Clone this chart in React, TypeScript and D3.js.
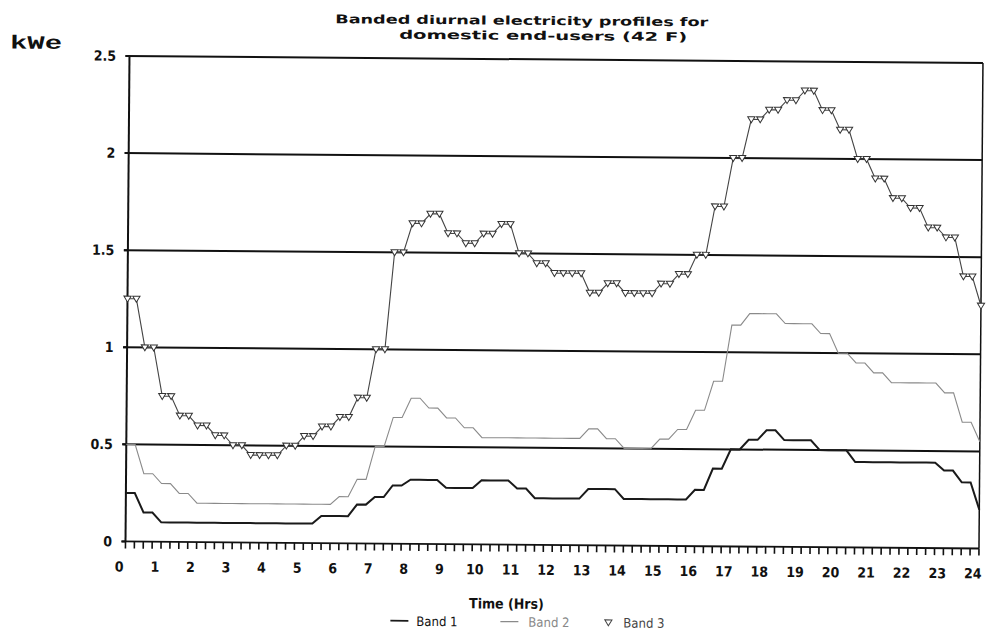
import React from "react";
import * as d3 from "d3";

// Quarter-hour samples, t = 0, 0.25, ... 24 (97 points each)
const BAND1 = [
  0.25, 0.25, 0.15, 0.15,
  0.1, 0.1, 0.1, 0.1, 0.1, 0.1, 0.1, 0.1, 0.1, 0.1, 0.1, 0.1, 0.1, 0.1, 0.1, 0.1, 0.1, 0.1,
  0.14, 0.14, 0.14, 0.14,
  0.2, 0.2, 0.24, 0.24, 0.3, 0.3,
  0.33, 0.33, 0.33, 0.33,
  0.29, 0.29, 0.29, 0.29,
  0.33, 0.33, 0.33, 0.33,
  0.29, 0.29,
  0.24, 0.24, 0.24, 0.24, 0.24, 0.24,
  0.29, 0.29, 0.29, 0.29,
  0.24, 0.24, 0.24, 0.24, 0.24, 0.24, 0.24, 0.24,
  0.29, 0.29, 0.4, 0.4, 0.5, 0.5, 0.55, 0.55, 0.6, 0.6,
  0.55, 0.55, 0.55, 0.55,
  0.5, 0.5, 0.5, 0.5,
  0.44, 0.44, 0.44, 0.44, 0.44, 0.44, 0.44, 0.44, 0.44, 0.44,
  0.4, 0.4, 0.34, 0.34,
  0.2,
];

const BAND2 = [
  0.5, 0.5, 0.35, 0.35, 0.3, 0.3, 0.25, 0.25,
  0.2, 0.2, 0.2, 0.2, 0.2, 0.2, 0.2, 0.2, 0.2, 0.2, 0.2, 0.2, 0.2, 0.2, 0.2, 0.2,
  0.24, 0.24, 0.33, 0.33, 0.5, 0.5, 0.65, 0.65, 0.75, 0.75, 0.7, 0.7, 0.65, 0.65, 0.6, 0.6,
  0.55, 0.55, 0.55, 0.55, 0.55, 0.55, 0.55, 0.55, 0.55, 0.55, 0.55, 0.55,
  0.6, 0.6, 0.55, 0.55,
  0.5, 0.5, 0.5, 0.5,
  0.55, 0.55, 0.6, 0.6, 0.7, 0.7, 0.85, 0.85, 1.14, 1.14,
  1.2, 1.2, 1.2, 1.2,
  1.15, 1.15, 1.15, 1.15,
  1.1, 1.1, 1.0, 1.0, 0.95, 0.95, 0.9, 0.9,
  0.85, 0.85, 0.85, 0.85, 0.85, 0.85,
  0.8, 0.8, 0.65, 0.65,
  0.55,
];

const BAND3 = [
  1.25, 1.25, 1.0, 1.0, 0.75, 0.75, 0.65, 0.65, 0.6, 0.6, 0.55, 0.55, 0.5, 0.5,
  0.45, 0.45, 0.45, 0.45,
  0.5, 0.5, 0.55, 0.55, 0.6, 0.6, 0.65, 0.65, 0.75, 0.75, 1.0, 1.0,
  1.5, 1.5, 1.65, 1.65, 1.7, 1.7, 1.6, 1.6, 1.55, 1.55, 1.6, 1.6, 1.65, 1.65,
  1.5, 1.5, 1.45, 1.45,
  1.4, 1.4, 1.4, 1.4,
  1.3, 1.3, 1.35, 1.35,
  1.3, 1.3, 1.3, 1.3,
  1.35, 1.35, 1.4, 1.4, 1.5, 1.5, 1.75, 1.75, 2.0, 2.0,
  2.2, 2.2, 2.25, 2.25, 2.3, 2.3, 2.35, 2.35, 2.25, 2.25, 2.15, 2.15,
  2.0, 2.0, 1.9, 1.9, 1.8, 1.8, 1.75, 1.75, 1.65, 1.65, 1.6, 1.6, 1.4, 1.4,
  1.25,
];

const HOUR_LABELS = [
  "0", "1", "2", "3", "4", "5", "6", "7", "8", "9", "10", "11", "12",
  "13", "14", "15", "16", "17", "18", "19", "20", "21", "22", "23", "24",
];
const Y_TICKS = [0, 0.5, 1, 1.5, 2, 2.5];
const Y_TICK_LABELS = ["0", "0.5", "1", "1.5", "2", "2.5"];
const SERIES_NAMES = ["Band 1", "Band 2", "Band 3"];

const TITLE_LINES = ["Banded diurnal electricity profiles for", "domestic end-users (42 F)"];

const W = 986;
const H = 633;
const FONT = "'DejaVu Sans Condensed', 'Liberation Sans Narrow', 'DejaVu Sans', sans-serif";

export default function App() {
  const x = d3.scaleLinear().domain([0, 24]).range([127.5, 981]);
  const y = d3.scaleLinear().domain([0, 2.5]).range([545, 59.5]);
  const times = BAND1.map((_, i) => i * 0.25);
  const line = d3
    .line<number>()
    .x((_, i) => x(times[i]))
    .y((d) => y(d));
  const minorTicks = d3.range(0, 24.001, 0.25);
  const tri = (cx: number, cy: number) =>
    `M${cx - 3.6},${cy - 2.6}L${cx + 3.6},${cy - 2.6}L${cx},${cy + 3.4}Z`;

  return (
    <div style={{ position: "absolute", left: 0, top: 0 }}>
      <svg width={W} height={H} viewBox={`0 0 ${W} ${H}`} style={{ display: "block", background: "#fff" }}>
        <rect x={0} y={0} width={W} height={H} fill="#fff" />
        <g transform="rotate(0.47, 554, 300)">
          {/* Title */}
          <text x={333} y={25} fontFamily={FONT} fontWeight="bold" fontSize={12} textLength={373} lengthAdjust="spacingAndGlyphs" fill="#111">
            {TITLE_LINES[0]}
          </text>
          <text x={397} y={40} fontFamily={FONT} fontWeight="bold" fontSize={12} textLength={288} lengthAdjust="spacingAndGlyphs" fill="#111">
            {TITLE_LINES[1]}
          </text>
          {/* y unit */}
          <text x={8} y={53} fontFamily="'Liberation Mono', 'DejaVu Sans Mono', monospace" fontWeight="bold" fontSize={19} textLength={52} lengthAdjust="spacingAndGlyphs" fill="#111">
            kWe
          </text>

          {/* gridlines */}
          {Y_TICKS.map((v, i) => (
            <g key={"g" + i}>
              {v > 0 && (
                <line x1={x(0) - 4} x2={x(24)} y1={y(v)} y2={y(v)} stroke="#111" strokeWidth={2} />
              )}
              <line x1={x(0) - 4} x2={x(0)} y1={y(v)} y2={y(v)} stroke="#111" strokeWidth={2} />
              <text x={114} y={y(v)} dy="0.35em" textAnchor="end" fontFamily={FONT} fontWeight="bold" fontSize={14} fill="#111">
                {Y_TICK_LABELS[i]}
              </text>
            </g>
          ))}
          {/* axes frame */}
          <line x1={x(0)} x2={x(0)} y1={y(0)} y2={y(2.5)} stroke="#111" strokeWidth={2} />
          <line x1={x(24)} x2={x(24)} y1={y(0)} y2={y(2.5)} stroke="#111" strokeWidth={1.5} />
          <line x1={x(0) - 4} x2={x(24)} y1={y(0)} y2={y(0)} stroke="#111" strokeWidth={1.8} />
          {minorTicks.map((t, i) => (
            <line key={"t" + i} x1={x(t)} x2={x(t)} y1={y(0)} y2={y(0) + 7} stroke="#111" strokeWidth={1.6} />
          ))}
          {HOUR_LABELS.map((lab, i) => (
            <text key={"h" + i} x={x(i) - 6} y={575} textAnchor="middle" fontFamily={FONT} fontWeight="bold" fontSize={14} fill="#111">
              {lab}
            </text>
          ))}
          <text x={509} y={609} textAnchor="middle" fontFamily={FONT} fontWeight="bold" fontSize={14} fill="#111">
            Time (Hrs)
          </text>

          {/* series */}
          <path d={line(BAND2) || ""} fill="none" stroke="#8a8a8a" strokeWidth={1.1} />
          <path d={line(BAND1) || ""} fill="none" stroke="#1a1a1a" strokeWidth={2} />
          <path d={line(BAND3) || ""} fill="none" stroke="#444" strokeWidth={1.1} />
          {BAND3.map((v, i) => (
            <path key={"m" + i} d={tri(x(times[i]), y(v))} fill="#fff" stroke="#333" strokeWidth={1} />
          ))}

          {/* legend */}
          <line x1={393} x2={411} y1={622} y2={622} stroke="#1a1a1a" strokeWidth={1.8} />
          <text x={419} y={627} fontFamily={FONT} fontSize={13} fill="#111">{SERIES_NAMES[0]}</text>
          <line x1={503} x2={521} y1={622} y2={622} stroke="#8a8a8a" strokeWidth={1.2} />
          <text x={531} y={627} fontFamily={FONT} fontSize={13} fill="#888">{SERIES_NAMES[1]}</text>
          <path d={tri(611, 622)} fill="#fff" stroke="#444" strokeWidth={1} />
          <text x={626} y={627} fontFamily={FONT} fontSize={13} fill="#444">{SERIES_NAMES[2]}</text>
        </g>
      </svg>
    </div>
  );
}
